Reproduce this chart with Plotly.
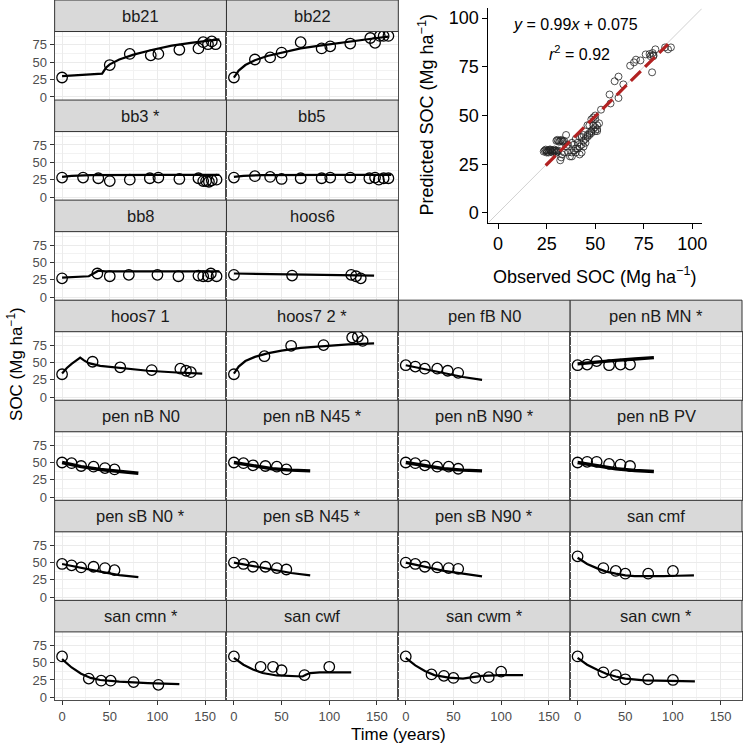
import plotly.graph_objects as go

# ---------------- data ----------------
panel_names = ["bb21", "bb22", "bb3 *", "bb5", "bb8", "hoos6",
               "hoos7 1", "hoos7 2 *", "pen fB N0", "pen nB MN *",
               "pen nB N0", "pen nB N45 *", "pen nB N90 *", "pen nB PV",
               "pen sB N0 *", "pen sB N45 *", "pen sB N90 *", "san cmf",
               "san cmn *", "san cwf", "san cwm *", "san cwn *"]

obs_time = {
    "bb21": [0, 50, 71, 93, 101, 123, 143, 148, 153, 157, 161],
    "bb22": [0, 22, 38, 50, 70, 92, 101, 122, 143, 148, 153, 157, 162],
    "bb3 *": [0, 22, 38, 50, 71, 92, 101, 123, 143, 148, 151, 154, 157, 162],
    "bb5": [0, 22, 38, 50, 70, 92, 101, 122, 142, 148, 152, 157, 162],
    "bb8": [0, 37, 50, 70, 100, 122, 143, 148, 153, 156, 162],
    "hoos6": [0, 61, 123, 128, 133],
    "hoos7 1": [0, 32, 61, 94, 124, 130, 135],
    "hoos7 2 *": [0, 32, 60, 94, 124, 130, 135],
    "pen fB N0": [0, 10, 20, 33, 44, 55],
    "pen nB MN *": [0, 10, 20, 33, 45, 55],
    "pen nB N0": [0, 10, 20, 33, 45, 55],
    "pen nB N45 *": [0, 10, 20, 33, 45, 55],
    "pen nB N90 *": [0, 10, 20, 33, 45, 55],
    "pen nB PV": [0, 10, 20, 33, 45, 55],
    "pen sB N0 *": [0, 10, 20, 33, 45, 55],
    "pen sB N45 *": [0, 10, 20, 33, 45, 55],
    "pen sB N90 *": [0, 10, 20, 33, 45, 55],
    "san cmf": [0, 27, 40, 50, 74, 100],
    "san cmn *": [0, 28, 41, 51, 75, 101],
    "san cwf": [0, 28, 41, 50, 74, 100],
    "san cwm *": [0, 27, 40, 50, 73, 87, 100],
    "san cwn *": [0, 27, 40, 50, 74, 100],
}
obs_soc = {
    "bb21": [28, 46, 62, 60, 62, 68, 70, 79, 76, 80, 76],
    "bb22": [28, 54, 57, 64, 79, 70, 73, 77, 85, 78, 88, 88, 88],
    "bb3 *": [28, 28, 27, 23, 25, 27, 28, 26, 27, 23, 23, 22, 24, 25],
    "bb5": [28, 30, 29, 26, 27, 27, 28, 28, 27, 28, 25, 27, 27],
    "bb8": [27, 34, 30, 32, 32, 30, 31, 30, 30, 34, 30],
    "hoos6": [32, 31, 32, 30, 27],
    "hoos7 1": [33, 51, 43, 39, 41, 38, 36],
    "hoos7 2 *": [33, 59, 74, 75, 86, 87, 81],
    "pen fB N0": [46, 44, 41, 41, 38, 35],
    "pen nB MN *": [46, 47, 52, 46, 47, 47],
    "pen nB N0": [50, 49, 45, 44, 42, 40],
    "pen nB N45 *": [50, 49, 46, 45, 44, 40],
    "pen nB N90 *": [50, 49, 46, 44, 44, 41],
    "pen nB PV": [50, 51, 51, 48, 47, 45],
    "pen sB N0 *": [48, 46, 43, 44, 42, 39],
    "pen sB N45 *": [50, 48, 44, 44, 42, 40],
    "pen sB N90 *": [50, 48, 44, 43, 42, 41],
    "san cmf": [59, 42, 38, 34, 34, 38],
    "san cmn *": [59, 27, 24, 24, 22, 18],
    "san cwf": [59, 44, 44, 39, 32, 44],
    "san cwm *": [59, 33, 31, 28, 28, 29, 37],
    "san cwn *": [59, 36, 32, 26, 26, 25],
}
pred_time = {
    "bb21": [0, 42, 46, 50, 60, 75, 95, 115, 135, 150, 165],
    "bb22": [0, 5, 12, 22, 35, 50, 70, 90, 110, 130, 150, 162],
    "bb3 *": [0, 10, 30, 60, 100, 165],
    "bb5": [0, 10, 30, 60, 100, 165],
    "bb8": [0, 28, 33, 38, 45, 70, 120, 165],
    "hoos6": [0, 60, 100, 147],
    "hoos7 1": [0, 5, 10, 15, 19, 23, 28, 40, 60, 90, 120, 147],
    "hoos7 2 *": [0, 5, 12, 22, 35, 50, 70, 95, 120, 147],
    "pen fB N0": [0, 20, 40, 60, 80],
    "pen nB MN *": [0, 20, 40, 60, 80],
    "pen nB N0": [0, 20, 40, 60, 80],
    "pen nB N45 *": [0, 20, 40, 60, 80],
    "pen nB N90 *": [0, 20, 40, 60, 80],
    "pen nB PV": [0, 20, 40, 60, 80],
    "pen sB N0 *": [0, 20, 40, 60, 80],
    "pen sB N45 *": [0, 20, 40, 60, 80],
    "pen sB N90 *": [0, 20, 40, 60, 80],
    "san cmf": [0, 10, 20, 30, 40, 50, 60, 75, 90, 105, 122],
    "san cmn *": [0, 10, 20, 30, 40, 60, 90, 123],
    "san cwf": [0, 10, 20, 30, 45, 60, 72, 76, 80, 90, 123],
    "san cwm *": [0, 10, 20, 30, 45, 60, 70, 80, 100, 123],
    "san cwn *": [0, 10, 20, 30, 40, 50, 70, 100, 123],
}
pred_soc = {
    "bb21": [30, 33.5, 42, 47, 54, 61, 68, 74, 78, 81, 83],
    "bb22": [28, 38, 46, 53, 59, 64, 70, 74, 78, 82, 85, 87],
    "bb3 *": [29, 30.5, 31.5, 32, 32, 32],
    "bb5": [29, 30.5, 31.5, 32, 32, 32],
    "bb8": [28, 30, 34, 38, 37, 37, 37, 37],
    "hoos6": [34, 33, 32, 31],
    "hoos7 1": [34, 42, 48, 53, 57, 53, 49, 45, 42, 38, 35.5, 34],
    "hoos7 2 *": [34, 44, 52, 58, 63, 67, 71, 74, 76, 77.5],
    "pen fB N0": [46, 40, 34, 29, 25],
    "pen nB MN *": [48, 51, 53, 55, 57],
    "pen nB N0": [50, 44, 40, 37, 34.5],
    "pen nB N45 *": [50, 45, 41, 39, 38],
    "pen nB N90 *": [50, 45, 41, 39, 38],
    "pen nB PV": [50, 45, 41, 38.5, 37],
    "pen sB N0 *": [48, 42, 37, 32, 29],
    "pen sB N45 *": [50, 45, 39, 35, 31.5],
    "pen sB N90 *": [50, 44, 38, 34, 30],
    "san cmf": [57, 48, 42, 37, 34, 31.5, 30.5, 30, 30.5, 31, 31.5],
    "san cmn *": [55, 43, 34, 28, 25, 22.5, 20.5, 19],
    "san cwf": [57, 47, 40, 35, 31.5, 30.5, 30, 33, 35, 36, 36],
    "san cwm *": [57, 46, 38, 32, 28.5, 27, 29, 31, 32, 32],
    "san cwn *": [57, 47, 40, 34, 30, 27, 24.5, 23.5, 23],
}
thick_lines = ["pen nB MN *", "pen nB N0", "pen nB N45 *", "pen nB N90 *", "pen nB PV"]

# inset scatter: observed vs predicted
sc_obs = [24, 25, 25.5, 26, 26.5, 27, 27.5, 28, 28.5, 29, 29.5, 30, 30.5, 31, 26, 27, 28, 29, 24.5, 23.5, 25, 30,
          30, 31, 32, 32.5, 33, 34, 30.5, 31.5, 35, 33.5,
          32, 32.5, 33, 34, 36, 37, 38, 38, 39, 40, 40, 41, 42, 42, 43, 43, 44, 44, 45, 45, 46, 46, 47, 47,
          48, 48, 49, 50, 50, 51, 51, 52, 51, 49, 47, 46, 48, 49, 50, 50, 53, 35, 36, 38, 40, 42, 43, 44, 41, 39,
          57.4, 57.9, 62, 60, 62, 64.5, 68, 70, 71, 73.3, 79.3, 76, 78, 79.6, 81, 80, 86, 89, 87.5, 80, 78.5]
sc_pred = [32, 32, 31.5, 32, 32.5, 32, 31.5, 32, 32, 31.5, 32, 32, 31.5, 32, 31, 32.5, 31, 32.5, 32.5, 31.5, 31, 31,
           37, 37, 37, 37.5, 37, 37, 37.5, 36.5, 40, 36.5,
           27, 28.5, 30, 31, 31, 29, 29, 31, 32, 31, 33, 33, 30, 34, 31, 35, 34, 37, 36, 38, 39, 40, 40, 41,
           41, 42, 43, 42, 44, 43, 45, 46, 42, 45, 45, 45, 48, 49, 50, 48, 53, 34, 35, 36, 38, 39, 39, 40, 36, 35,
           60.8, 56.2, 59, 67.6, 70, 66, 75.6, 77.3, 78.7, 78.3, 72.2, 81.4, 81.6, 82.1, 84, 81, 85, 85, 84, 80.5, 80.5]
reg_slope = 0.99
reg_intercept = 0.075
reg_x = [24.5, 87.5]
inset_ticks = [0, 25, 50, 75, 100]
panel_yticks = [0, 25, 50, 75]
panel_xticks = [0, 50, 100, 150]

# ---------------- layout helpers ----------------
W = H = 748
FONT = "Liberation Sans, Arial, Helvetica, sans-serif"
col_left = [55, 228, 401, 574]
col_w = 173
row_pitch = 100.6
strip_h = 31.7
positions = [(0, 0), (0, 1), (1, 0), (1, 1), (2, 0), (2, 1)] + [(r, c) for r in range(3, 7) for c in range(4)]


def px(x):
    return x / W


def py(y):
    return 1 - y / H


fig = go.Figure()
layout = dict(width=W, height=H, margin=dict(l=0, r=0, t=0, b=0),
              paper_bgcolor="white", plot_bgcolor="white", showlegend=False,
              font=dict(family=FONT))
shapes = []
annotations = []

for i, name in enumerate(panel_names):
    r, c = positions[i]
    n = i + 1
    x0, x1 = col_left[c], col_left[c] + col_w
    top = r * row_pitch
    sb = top + strip_h
    bot = top + row_pitch
    xa = "xaxis" if n == 1 else f"xaxis{n}"
    ya = "yaxis" if n == 1 else f"yaxis{n}"
    xr = "x" if n == 1 else f"x{n}"
    yr = "y" if n == 1 else f"y{n}"
    bottom_row = (r == 6)
    layout[xa] = dict(domain=[px(x0), px(x1)], range=[-7.8, 172.4], anchor=yr,
                      tickvals=panel_xticks, showticklabels=bottom_row,
                      ticks="outside" if bottom_row else "", ticklen=4, tickcolor="#333333",
                      tickfont=dict(size=13, color="#4D4D4D"),
                      showgrid=True, gridcolor="#EBEBEB", gridwidth=1.1,
                      minor=dict(tickvals=[25, 75, 125], showgrid=True, gridcolor="#F2F2F2", gridwidth=0.6),
                      zeroline=False, showline=True, mirror=True, linecolor="#4D4D4D", linewidth=1)
    layout[ya] = dict(domain=[py(bot), py(sb)], range=[-4.5, 94.3], anchor=xr,
                      tickvals=panel_yticks, showticklabels=(c == 0),
                      ticks="outside" if c == 0 else "", ticklen=4, tickcolor="#333333",
                      tickfont=dict(size=13, color="#4D4D4D"),
                      showgrid=True, gridcolor="#EBEBEB", gridwidth=1.1,
                      minor=dict(tickvals=[12.5, 37.5, 62.5, 87.5], showgrid=True, gridcolor="#F2F2F2", gridwidth=0.6),
                      zeroline=False, showline=True, mirror=True, linecolor="#4D4D4D", linewidth=1)
    shapes.append(dict(type="rect", xref="paper", yref="paper", x0=px(x0), x1=px(x1),
                       y0=py(sb), y1=py(top), fillcolor="#D9D9D9",
                       line=dict(color="#333333", width=1), layer="above"))
    annotations.append(dict(text=name, xref="paper", yref="paper", x=px((x0 + x1) / 2),
                            y=py(top + strip_h / 2), showarrow=False,
                            font=dict(size=16.5, color="#1A1A1A"), xanchor="center", yanchor="middle"))
    fig.add_trace(go.Scatter(x=pred_time[name], y=pred_soc[name], mode="lines",
                             line=dict(color="black", width=3.4 if name in thick_lines else 2.2),
                             xaxis=xr, yaxis=yr, hoverinfo="skip"))
    fig.add_trace(go.Scatter(x=obs_time[name], y=obs_soc[name], mode="markers",
                             marker=dict(symbol="circle-open", size=10.5, color="black",
                                         line=dict(width=1.3, color="black")),
                             xaxis=xr, yaxis=yr, cliponaxis=False))

# axis titles of the faceted grid
annotations.append(dict(text="Time (years)", xref="paper", yref="paper", x=px(401), y=py(738),
                        showarrow=False, font=dict(size=17, color="black"), xanchor="center", yanchor="middle"))
annotations.append(dict(text="SOC (Mg ha<sup>−1</sup>)", xref="paper", yref="paper", x=px(15), y=py(366),
                        showarrow=False, textangle=-90, font=dict(size=17, color="black"),
                        xanchor="center", yanchor="middle"))

# ---------------- inset ----------------
ni = len(panel_names) + 1
ix0, ix1 = 491.7, 706.7
iy_top, iy_bot = 8.5, 223.8
layout[f"xaxis{ni}"] = dict(domain=[px(ix0), px(ix1)], range=[-5, 105], anchor=f"y{ni}",
                            tickvals=inset_ticks, ticks="outside", ticklen=5, tickcolor="black", tickwidth=1.1,
                            tickfont=dict(size=18, color="black"), showgrid=False, zeroline=False,
                            showline=True, linecolor="black", linewidth=1.2)
layout[f"yaxis{ni}"] = dict(domain=[py(iy_bot), py(iy_top)], range=[-5, 105], anchor=f"x{ni}",
                            tickvals=inset_ticks, ticks="outside", ticklen=5, tickcolor="black", tickwidth=1.1,
                            tickfont=dict(size=18, color="black"), showgrid=False, zeroline=False,
                            showline=True, linecolor="black", linewidth=1.2)
fig.add_trace(go.Scatter(x=[-5, 105], y=[-5, 105], mode="lines", line=dict(color="#CCCCCC", width=0.9),
                         xaxis=f"x{ni}", yaxis=f"y{ni}", hoverinfo="skip"))
fig.add_trace(go.Scatter(x=sc_obs, y=sc_pred, mode="markers",
                         marker=dict(symbol="circle-open", size=7, color="#222222", line=dict(width=0.8)),
                         xaxis=f"x{ni}", yaxis=f"y{ni}"))
fig.add_trace(go.Scatter(x=reg_x, y=[reg_slope * v + reg_intercept for v in reg_x], mode="lines",
                         line=dict(color="#B22222", width=3.2, dash="14px,6px"),
                         xaxis=f"x{ni}", yaxis=f"y{ni}", hoverinfo="skip"))
annotations.append(dict(text="Observed SOC (Mg ha<sup>−1</sup>)", xref="paper", yref="paper",
                        x=px(599), y=py(277), showarrow=False, font=dict(size=18, color="black"),
                        xanchor="center", yanchor="middle"))
annotations.append(dict(text="Predicted SOC (Mg ha<sup>−1</sup>)", xref="paper", yref="paper",
                        x=px(429), y=py(116), showarrow=False, textangle=-90,
                        font=dict(size=18, color="black"), xanchor="center", yanchor="middle"))
annotations.append(dict(text="<i>y</i> = 0.99<i>x</i> + 0.075", xref="paper", yref="paper",
                        x=px(579), y=py(25), showarrow=False, font=dict(size=16, color="black"),
                        xanchor="center", yanchor="middle"))
annotations.append(dict(text="<i>r</i><sup>2</sup> = 0.92", xref="paper", yref="paper",
                        x=px(583), y=py(53), showarrow=False, font=dict(size=16, color="black"),
                        xanchor="center", yanchor="middle"))

layout["shapes"] = shapes
layout["annotations"] = annotations
fig.update_layout(**layout)
fig.write_html("out.html", config={"displayModeBar": False},
               post_script="document.body.style.margin='0';document.body.style.overflow='hidden';")
